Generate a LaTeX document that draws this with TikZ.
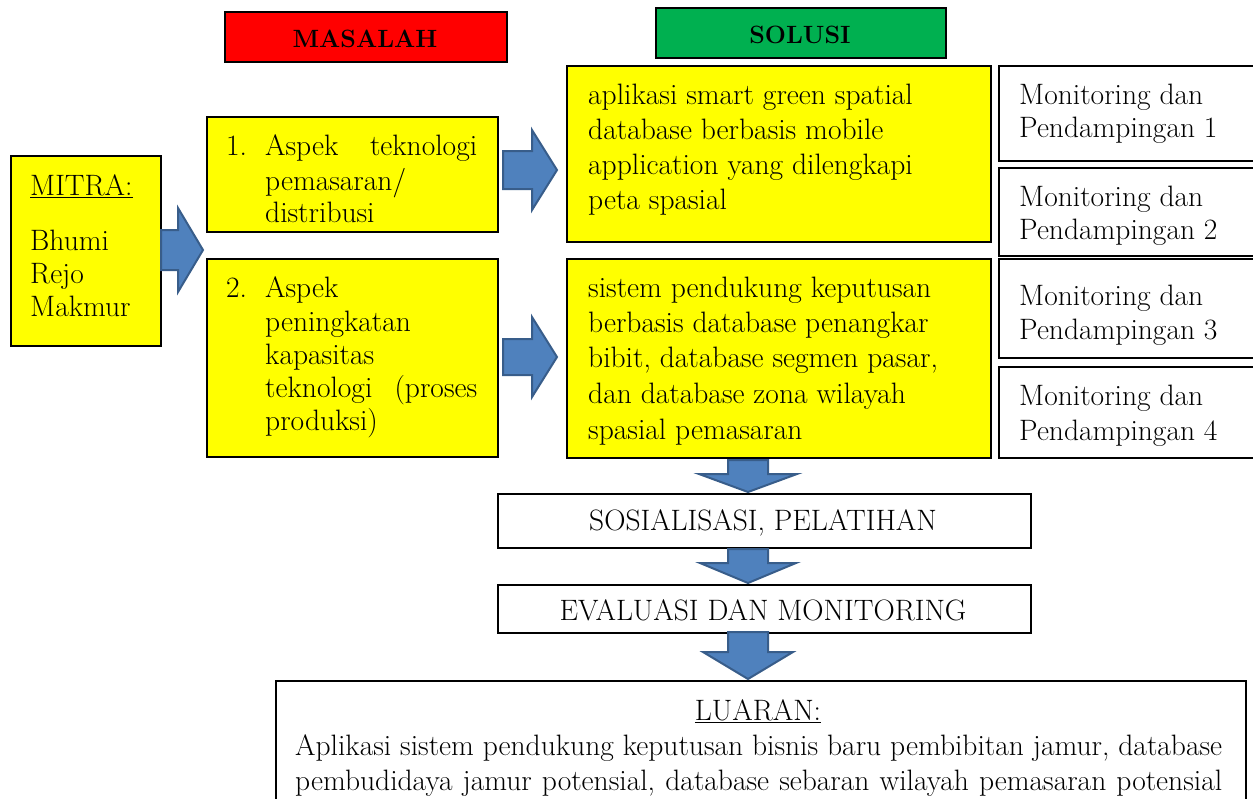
\documentclass[tikz,border=0pt]{standalone}
\definecolor{yel}{HTML}{FFFF00}
\definecolor{redb}{HTML}{FF0000}
\definecolor{greenb}{HTML}{00B050}
\definecolor{arrfill}{HTML}{4F81BD}
\definecolor{arrline}{HTML}{385D8A}
\tikzset{
 box/.style={draw=black, line width=1.6pt, inner sep=0pt, anchor=north west},
 ybox/.style={box, fill=yel},
 wbox/.style={box, fill=white},
 bodyfont/.style={font=\fontsize{29.5}{34}\selectfont},
 txt/.style={inner sep=0pt, bodyfont, anchor=base west},
 ctxt/.style={inner sep=0pt, bodyfont, anchor=base},
 head/.style={inner sep=0pt, font=\fontsize{25}{30}\selectfont\bfseries, anchor=base},
 blk/.style={fill=arrfill, draw=arrline, line width=2pt, line join=miter},
}
% right block arrow: x0, ymid, xhead, xtip, half shaft, half head
\newcommand\rarrow[6]{\draw[blk] (#1,#2-#5) -- (#3,#2-#5) -- (#3,#2-#6) -- (#4,#2) -- (#3,#2+#6) -- (#3,#2+#5) -- (#1,#2+#5) -- cycle;}
% down block arrow: xmid, y0, yhead, ytip, half shaft, half head
\newcommand\darrow[6]{\draw[blk] (#1-#5,#2) -- (#1-#5,#3) -- (#1-#6,#3) -- (#1,#4) -- (#1+#6,#3) -- (#1+#5,#3) -- (#1+#5,#2) -- cycle;}
\begin{document}
\begin{tikzpicture}[x=1pt,y=-1pt]
\useasboundingbox (0,0) rectangle (1253,798);
% header boxes
\node[box, fill=redb, minimum width=282pt, minimum height=50pt] (masalah) at (224,11) {};
\node[head] (masalahT) at (365,47) {MASALAH};
\node[box, fill=greenb, minimum width=290pt, minimum height=50pt] (solusi) at (655,7) {};
\node[head] (solusiT) at (800,43) {SOLUSI};
% mitra
\node[ybox, minimum width=150pt, minimum height=190pt] (mitra) at (10,155) {};
\node[txt] (mitraA) at (30,195) {\underline{MITRA:}};
\node[txt] (mitraB) at (30,250) {Bhumi};
\node[txt] (mitraC) at (30,283) {Rejo};
\node[txt] (mitraD) at (30,316) {Makmur};
% aspek boxes
\node[ybox, minimum width=291pt, minimum height=115pt] (asp1) at (206,116) {};
\node[txt] (asp1n) at (226,155) {1.};
\node[txt] (asp1a) at (265,155) {\makebox[212pt][s]{Aspek teknologi}};
\node[txt] (asp1b) at (265,190) {pemasaran/};
\node[txt] (asp1c) at (265,222) {distribusi};
\node[ybox, minimum width=291pt, minimum height=198pt] (asp2) at (206,258) {};
\node[txt] (asp2n) at (226,297) {2.};
\node[txt] (asp2a) at (265,297) {Aspek};
\node[txt] (asp2b) at (265,331) {peningkatan};
\node[txt] (asp2c) at (265,364) {kapasitas};
\node[txt] (asp2d) at (265,397) {\makebox[212pt][s]{teknologi (proses}};
\node[txt] (asp2e) at (265,430) {produksi)};
% solusi boxes
\node[ybox, minimum width=424pt, minimum height=176pt] (sol1) at (566,65) {};
\node[txt] (sol1a) at (588,104) {aplikasi smart green spatial};
\node[txt] (sol1b) at (588,139) {database berbasis mobile};
\node[txt] (sol1c) at (588,174) {application yang dilengkapi};
\node[txt] (sol1d) at (588,209) {peta spasial};
\node[ybox, minimum width=424pt, minimum height=199pt] (sol2) at (566,258) {};
\node[txt] (sol2a) at (588,297) {sistem pendukung keputusan};
\node[txt] (sol2b) at (588,332) {berbasis database penangkar};
\node[txt] (sol2c) at (588,367) {bibit, database segmen pasar,};
\node[txt] (sol2d) at (588,403) {dan database zona wilayah};
\node[txt] (sol2e) at (588,439) {spasial pemasaran};
% monitoring boxes
\node[wbox, minimum width=264pt, minimum height=95pt] (mon1) at (998,65) {};
\node[txt] (mon1a) at (1019,104) {Monitoring dan};
\node[txt] (mon1b) at (1019,137) {Pendampingan 1};
\node[wbox, minimum width=264pt, minimum height=88pt] (mon2) at (998,167) {};
\node[txt] (mon2a) at (1019,206) {Monitoring dan};
\node[txt] (mon2b) at (1019,239) {Pendampingan 2};
\node[wbox, minimum width=264pt, minimum height=99pt] (mon3) at (998,258) {};
\node[txt] (mon3a) at (1019,305) {Monitoring dan};
\node[txt] (mon3b) at (1019,339) {Pendampingan 3};
\node[wbox, minimum width=264pt, minimum height=91pt] (mon4) at (998,366) {};
\node[txt] (mon4a) at (1019,405) {Monitoring dan};
\node[txt] (mon4b) at (1019,440) {Pendampingan 4};
% bottom boxes
\node[wbox, minimum width=533pt, minimum height=54pt] (sos) at (497,493) {};
\node[ctxt] (sosT) at (763,530) {SOSIALISASI, PELATIHAN};
\node[wbox, minimum width=533pt, minimum height=48pt] (eva) at (497,584) {};
\node[ctxt] (evaT) at (763,620) {EVALUASI DAN MONITORING};
\node[wbox, minimum width=970pt, minimum height=140pt] (lua) at (275,680) {};
\node[ctxt] (luaT) at (758,720) {\underline{LUARAN:}};
\node[txt] (luaA) at (295,755) {\makebox[927pt][s]{Aplikasi sistem pendukung keputusan bisnis baru pembibitan jamur, database}};
\node[txt] (luaB) at (295,790) {\makebox[927pt][s]{pembudidaya jamur potensial, database sebaran wilayah pemasaran potensial}};
% block arrows
\rarrow{161}{250}{178}{203}{20}{42}
\rarrow{503}{170}{532}{557}{19}{40}
\rarrow{503}{357}{532}{557}{18}{40}
\darrow{748}{460}{474}{492}{20}{49}
\darrow{748}{549}{563}{583}{20}{48}
\darrow{748}{632}{652}{679}{20}{45}
\end{tikzpicture}
\end{document}
